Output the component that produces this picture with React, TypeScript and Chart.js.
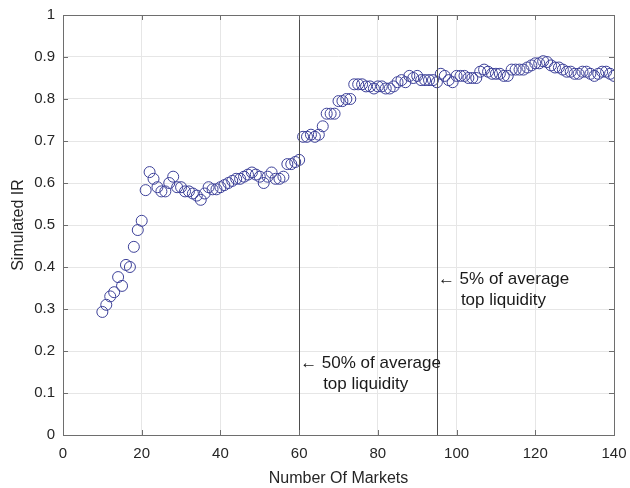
import React, { useEffect, useRef } from "react";
import { Chart, registerables } from "chart.js";

Chart.register(...registerables);

const marketCounts = [
  10, 11, 12, 13, 14, 15, 16, 17, 18, 19, 20, 21, 22, 23, 24, 25, 26, 27, 28, 29,
  30, 31, 32, 33, 34, 35, 36, 37, 38, 39, 40, 41, 42, 43, 44, 45, 46, 47, 48, 49,
  50, 51, 52, 53, 54, 55, 56, 57, 58, 59, 60, 61, 62, 63, 64, 65, 66, 67, 68, 69,
  70, 71, 72, 73, 74, 75, 76, 77, 78, 79, 80, 81, 82, 83, 84, 85, 86, 87, 88, 89,
  90, 91, 92, 93, 94, 95, 96, 97, 98, 99, 100, 101, 102, 103, 104, 105, 106, 107, 108, 109,
  110, 111, 112, 113, 114, 115, 116, 117, 118, 119, 120, 121, 122, 123, 124, 125, 126, 127, 128, 129,
  130, 131, 132, 133, 134, 135, 136, 137, 138, 139, 140,
];

const simulatedIR = [
  0.293, 0.31, 0.33, 0.34, 0.376, 0.355, 0.405, 0.4, 0.448, 0.488,
  0.51, 0.583, 0.626, 0.61, 0.59, 0.58, 0.58, 0.6, 0.615, 0.59,
  0.59, 0.58, 0.58, 0.575, 0.57, 0.56, 0.575, 0.59, 0.585, 0.585,
  0.59, 0.595, 0.6, 0.605, 0.61, 0.61, 0.615, 0.62, 0.625, 0.62,
  0.615, 0.6, 0.615, 0.625, 0.61, 0.61, 0.615, 0.645, 0.645, 0.65,
  0.655, 0.71, 0.71, 0.715, 0.71, 0.715, 0.735, 0.765, 0.765, 0.765,
  0.795, 0.795, 0.8, 0.8, 0.835, 0.835, 0.835, 0.83, 0.83, 0.825,
  0.83, 0.83, 0.825, 0.825, 0.83, 0.84, 0.845, 0.84, 0.855, 0.85,
  0.855, 0.845, 0.845, 0.845, 0.845, 0.84, 0.86, 0.855, 0.845, 0.84,
  0.855, 0.855, 0.855, 0.85, 0.85, 0.85, 0.865, 0.87, 0.865, 0.86,
  0.86, 0.86, 0.855, 0.855, 0.87, 0.87, 0.87, 0.87, 0.875, 0.88,
  0.885, 0.885, 0.89, 0.888, 0.88, 0.875, 0.875, 0.87, 0.865, 0.865,
  0.86, 0.86, 0.865, 0.865, 0.86, 0.855, 0.86, 0.865, 0.865, 0.86,
  0.855,
];

const thresholdMarkets = [60, 95];
const thresholdLabels = [
  ["\u2190 50% of average", "top liquidity"],
  ["\u2190 5% of average", "top liquidity"],
];
const thresholdLabelLevels = [0.171, 0.371];

const FONT = "'Liberation Sans', Arial, Helvetica, sans-serif";
const TEXT = "#262626";
const MARKER = "#3d4199";

const boxPlugin = {
  id: "matlabBox",
  afterDraw(chart: any) {
    const { ctx, chartArea: a, scales } = chart;
    const xs = scales.x;
    const ys = scales.y;
    ctx.save();
    ctx.strokeStyle = "#4d4d4d";
    ctx.lineWidth = 1;
    thresholdMarkets.forEach((m) => {
      const px = Math.round(xs.getPixelForValue(m)) + 0.5;
      ctx.beginPath();
      ctx.moveTo(px, a.top);
      ctx.lineTo(px, a.bottom);
      ctx.stroke();
    });
    ctx.strokeStyle = "#6e6e6e";
    ctx.strokeRect(Math.round(a.left) + 0.5, Math.round(a.top) + 0.5, Math.round(a.right - a.left), Math.round(a.bottom - a.top));
    const tl = 5;
    xs.ticks.forEach((t: any) => {
      const px = Math.round(xs.getPixelForValue(t.value)) + 0.5;
      ctx.beginPath();
      ctx.moveTo(px, a.bottom);
      ctx.lineTo(px, a.bottom - tl);
      ctx.moveTo(px, a.top);
      ctx.lineTo(px, a.top + tl);
      ctx.stroke();
    });
    ys.ticks.forEach((t: any) => {
      const py = Math.round(ys.getPixelForValue(t.value)) + 0.5;
      ctx.beginPath();
      ctx.moveTo(a.left, py);
      ctx.lineTo(a.left + tl, py);
      ctx.moveTo(a.right, py);
      ctx.lineTo(a.right - tl, py);
      ctx.stroke();
    });
    ctx.fillStyle = "#1a1a1a";
    ctx.font = `17px ${FONT}`;
    ctx.textBaseline = "middle";
    ctx.textAlign = "left";
    thresholdMarkets.forEach((m, i) => {
      const px = xs.getPixelForValue(m);
      const y1 = ys.getPixelForValue(thresholdLabelLevels[i]);
      ctx.fillText(thresholdLabels[i][0], px + 1, y1);
      ctx.fillText(thresholdLabels[i][1], px + 24, y1 + 21);
    });
    ctx.restore();
  },
};

export default function App() {
  const ref = useRef<HTMLCanvasElement | null>(null);
  useEffect(() => {
    if (!ref.current) return;
    const chart = new Chart(ref.current, {
      type: "scatter",
      data: {
        datasets: [
          {
            data: marketCounts.map((m, i) => ({ x: m, y: simulatedIR[i] })),
            pointStyle: "circle",
            pointRadius: 5.5,
            pointBorderWidth: 1,
            pointBorderColor: MARKER,
            pointBackgroundColor: "rgba(0,0,0,0)",
            borderColor: MARKER,
            backgroundColor: "rgba(0,0,0,0)",
          },
        ],
      },
      plugins: [boxPlugin],
      options: {
        animation: false,
        responsive: false,
        maintainAspectRatio: false,
        layout: { padding: { left: 0, top: 15, right: 16, bottom: 0 } },
        plugins: {
          legend: { display: false },
          tooltip: { enabled: false },
        },
        scales: {
          x: {
            type: "linear",
            min: 0,
            max: 140,
            ticks: {
              stepSize: 20,
              color: TEXT,
              font: { family: FONT, size: 15 },
              padding: 10,
              maxRotation: 0,
            },
            grid: { color: "#e6e6e6", drawTicks: false, lineWidth: 1 },
            border: { display: false },
            title: {
              display: true,
              text: "Number Of Markets",
              color: TEXT,
              font: { family: FONT, size: 16 },
              padding: { top: 2, bottom: 0 },
            },
            afterFit(scale: any) {
              scale.height = 53;
              scale.paddingLeft = 0;
              scale.paddingRight = 0;
            },
          },
          y: {
            type: "linear",
            min: 0,
            max: 1,
            ticks: {
              stepSize: 0.1,
              color: TEXT,
              font: { family: FONT, size: 15 },
              padding: 8,
              callback: (v: any) => String(Number(Number(v).toFixed(1))),
            },
            grid: { color: "#e6e6e6", drawTicks: false, lineWidth: 1 },
            border: { display: false },
            title: {
              display: true,
              text: "Simulated IR",
              color: TEXT,
              font: { family: FONT, size: 16 },
              padding: { top: 9, bottom: 0 },
            },
            afterFit(scale: any) {
              scale.width = 63;
              scale.paddingTop = 0;
              scale.paddingBottom = 0;
            },
          },
        },
      },
    });
    return () => chart.destroy();
  }, []);
  return (
    <div style={{ position: "fixed", left: 0, top: 0, width: 630, height: 488, background: "#fff" }}>
      <canvas ref={ref} width={630} height={488} style={{ width: 630, height: 488 }} />
    </div>
  );
}
